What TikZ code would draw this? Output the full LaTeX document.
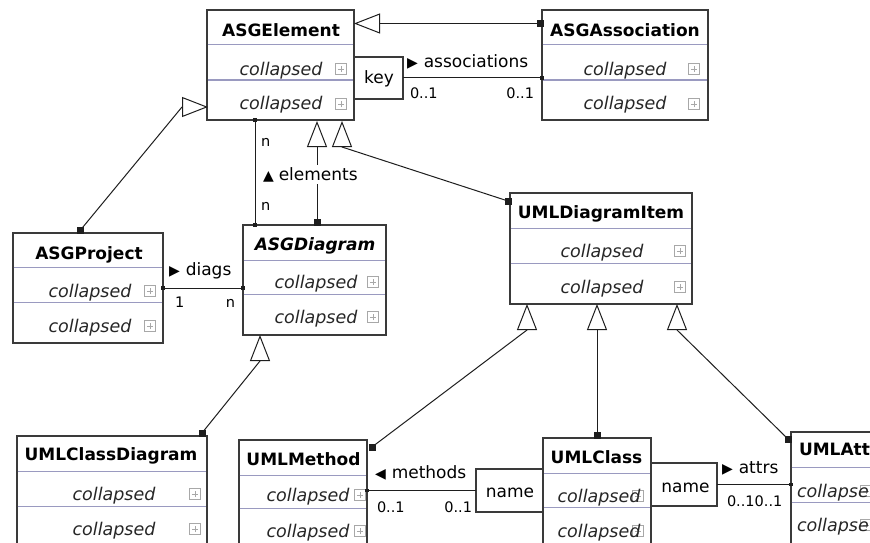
\documentclass[tikz,border=0pt]{standalone}
\usepackage{fontspec}
\setmainfont{DejaVu Sans}
\usetikzlibrary{arrows.meta}
\definecolor{boxc}{HTML}{3A3A3A}
\definecolor{sepc}{HTML}{9A9AC0}
\definecolor{icc}{HTML}{A8A8A8}
\definecolor{linec}{HTML}{1E1E1E}
\newcommand\tri[1]{{\fontsize{14}{14}\selectfont #1}\hspace{6pt}}
\newcommand\shell[7]{%
  \node[umlbox, minimum width={(#4-#2)*1pt}, minimum height={(#5-#3)*1pt}] (#1) at (#2,#3) {};
  \draw[sepline] ({#2+0.7},#6) -- ({#4-0.7},#6);
  \draw[sepline] ({#2+0.7},#7) -- ({#4-0.7},#7);}
\newcommand\rows[5]{%
  \node[icon] (#1-i1) at (#5,{#3-6}) {};
  \node[icon] (#1-i2) at (#5,{#4-6}) {};
  \node[att] (#1-1) at (#2,#3) {collapsed};
  \node[att] (#1-2) at (#2,#4) {collapsed};}
\begin{document}
\begin{tikzpicture}[x=1pt,y=-1pt,
  umlbox/.style={draw=boxc, line width=1.2pt, fill=white, inner sep=0pt, outer sep=0pt, anchor=north west},
  sepline/.style={draw=sepc, line width=1pt},
  ttl/.style={font=\fontsize{17}{20}\selectfont\bfseries, anchor=base, inner sep=0pt, outer sep=0pt},
  att/.style={font=\fontsize{17.5}{20}\selectfont\itshape, anchor=base, inner sep=0pt, outer sep=0pt, text=black!85},
  lbl/.style={font=\fontsize{17}{20}\selectfont, anchor=base west, inner sep=0pt, outer sep=0pt},
  nm/.style={font=\fontsize{17}{20}\selectfont, anchor=base, inner sep=0pt, outer sep=0pt},
  mul/.style={font=\fontsize{14.5}{17}\selectfont, inner sep=0pt, outer sep=0pt},
  icon/.style={draw=icc, fill=white, line width=0.8pt, minimum size=11pt, inner sep=0pt, outer sep=0pt,
    path picture={\draw[icc, line width=0.8pt]
      ([xshift=-3.2pt]path picture bounding box.center) -- ([xshift=3.2pt]path picture bounding box.center)
      ([yshift=-3.2pt]path picture bounding box.center) -- ([yshift=3.2pt]path picture bounding box.center);}},
  sq/.style={fill=linec, minimum size=7pt, inner sep=0pt, outer sep=0pt},
  ssq/.style={fill=linec, minimum size=3.5pt, inner sep=0pt, outer sep=0pt},
  conn/.style={draw=linec, line width=1pt, line join=round},
  gen/.style={conn, -{Triangle[open, length=26pt, width=20pt, line width=1pt]}}
]
\useasboundingbox (0,0) rectangle (870,543);
\clip (0,0) rectangle (870,543);
\fill[white] (0,0) rectangle (870,543);

% ---------- classes ----------
\shell{E}{207}{10}{354}{120}{45}{80}
\node[ttl] (E-t) at (281,37) {ASGElement};
\rows{E}{281}{75}{110}{341}

\shell{A}{542}{10}{708}{120}{45}{80}
\node[ttl] (A-t) at (625,37) {ASGAssociation};
\rows{A}{625}{75}{110}{694}

\shell{P}{13}{233}{163}{343}{267}{302}
\node[ttl] (P-t) at (89,259) {ASGProject};
\rows{P}{90}{297}{332}{150}

\shell{D}{243}{225}{386}{335}{260}{294}
\node[ttl, font=\fontsize{17}{20}\selectfont\bfseries\itshape] (D-t) at (315,250) {ASGDiagram};
\rows{D}{316}{288}{323}{373}

\shell{I}{510}{193}{692}{304}{228}{263}
\node[ttl] (I-t) at (601,218) {UMLDiagramItem};
\rows{I}{602}{257}{293}{680}

\shell{CD}{17}{436}{207}{560}{471}{506}
\node[ttl] (CD-t) at (111,460) {UMLClassDiagram};
\rows{CD}{114}{500}{535}{195}

\shell{M}{239}{440}{367}{560}{475}{508}
\node[ttl] (M-t) at (303.5,465) {UMLMethod};
\rows{M}{308}{501}{537}{360}

\shell{C}{543}{438}{651}{560}{473}{507}
\node[ttl] (C-t) at (596.5,463) {UMLClass};
\rows{C}{599}{502}{537}{638}

\shell{T}{791}{432}{885}{560}{467}{502}
\node[ttl, anchor=base west] (T-t) at (799,455) {UMLAtt};
\node[icon] (T-i1) at (866,491) {};
\node[icon] (T-i2) at (866,525) {};
\node[att, anchor=base west] (T-1) at (797,497) {collapse};
\node[att, anchor=base west] (T-2) at (797,531) {collapse};

% ---------- qualifier boxes ----------
\node[umlbox, minimum width=49pt, minimum height=42pt] (K) at (354,57) {};
\node[nm] (K-t) at (379,83) {key};
\node[umlbox, minimum width=67pt, minimum height=43pt] (N1) at (476,469) {};
\node[nm] (N1-t) at (510,497) {name};
\node[umlbox, minimum width=66pt, minimum height=43pt] (N2) at (651,463) {};
\node[nm] (N2-t) at (685.5,492) {name};

% ---------- generalisations ----------
\node[sq] (sA) at (540,23.5) {};
\node[sq] (sP) at (80.5,230) {};
\node[sq] (sD) at (317,222) {};
\node[sq] (sI) at (508,201) {};
\node[sq] (sCD) at (202,433) {};
\node[sq] (sM) at (372,447) {};
\node[sq] (sC) at (597,435) {};
\node[sq] (sT) at (788,439) {};
\coordinate (aE2) at (208,107);
\coordinate (aE3) at (317,121);
\coordinate (aE4) at (342,121);
\coordinate (aD) at (260,335);
\coordinate (aI1) at (527,304);
\coordinate (aI2) at (597,304);
\coordinate (aI3) at (677,304);
\draw[gen] (sA.center) -- (sA.center -| E.east);
\draw[gen] (sP.center) -- ([xshift=-26pt]aE2) -- (aE2);
\draw[gen] (sD.center) -- (aE3);
\draw[gen] (sI.center) -- ([yshift=-26pt]aE4) -- (aE4);
\draw[gen] (sCD.center) -- ([yshift=-26pt]aD) -- (aD);
\draw[gen] (sM.center) -- ([yshift=-26pt]aI1) -- (aI1);
\draw[gen] (sC.center) -- (aI2);
\draw[gen] (sT.center) -- ([yshift=-26pt]aI3) -- (aI3);
\foreach \s in {sA,sP,sD,sI,sCD,sM,sC,sT} \node[sq] at (\s) {};

% ---------- associations ----------
\draw[conn] (K.east) -- (K.east -| A.west);
\node[ssq] (qa) at (K.east -| A.west) {};
\draw[conn] (P.east) -- (P.east -| D.west);
\node[ssq] (qp1) at (P.east) {};
\node[ssq] (qp2) at (P.east -| D.west) {};
\coordinate (ee) at ([xshift=-25.5pt]E.south);
\draw[conn] (ee) -- (ee |- D.north);
\node[ssq] (qe1) at (ee) {};
\node[ssq] (qe2) at (ee |- D.north) {};
\draw[conn] (N1.west -| M.east) -- (N1.west);
\node[ssq] (qm) at (N1.west -| M.east) {};
\draw[conn] (N2.east) -- (N2.east -| T.west);
\node[ssq] (qt) at (N2.east -| T.west) {};

% ---------- labels ----------
\node[lbl] (l-assoc) at (407,67) {\tri{▶}associations};
\node[mul, anchor=base west] (m-a1) at (410,98) {0..1};
\node[mul, anchor=base east] (m-a2) at (534,98) {0..1};
\node[lbl] (l-diags) at (169,275) {\tri{▶}diags};
\node[mul, anchor=base west] (m-p1) at (175,307) {1};
\node[mul, anchor=base east] (m-p2) at (235,307) {n};
\node[mul, anchor=base west] (m-e1) at (261,146) {n};
\node[mul, anchor=base west] (m-e2) at (261,210) {n};
\node[lbl, fill=white, inner sep=2pt] (l-elem) at (261,180) {{\fontsize{14}{14}\selectfont ▲}\hspace{5pt}elements};
\node[lbl] (l-meth) at (375,478) {\tri{◀}methods};
\node[mul, anchor=base west] (m-m1) at (377,512) {0..1};
\node[mul, anchor=base east] (m-m2) at (472,512) {0..1};
\node[lbl] (l-attrs) at (722,473) {\tri{▶}attrs};
\node[mul, anchor=base west] (m-t1) at (727,506) {0..10..1};
\end{tikzpicture}
\end{document}
